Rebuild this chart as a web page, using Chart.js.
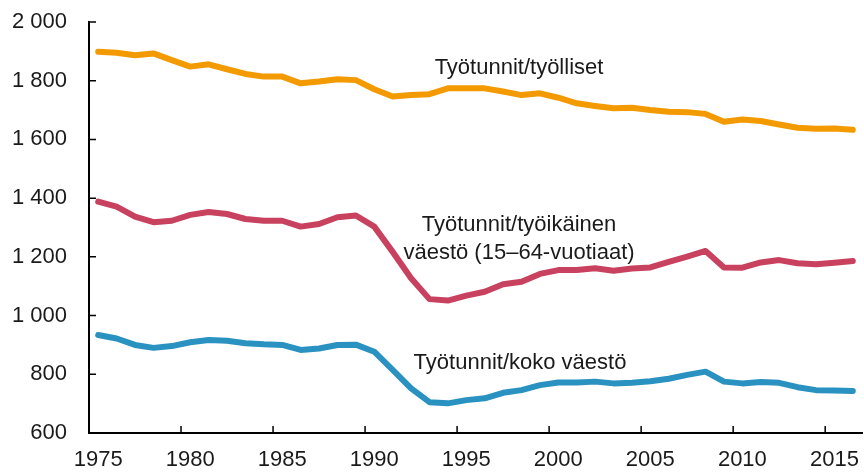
<!DOCTYPE html>
<html>
<head>
<meta charset="utf-8">
<script src="https://cdn.jsdelivr.net/npm/chart.js@4"></script>
<style>
  html, body { margin: 0; padding: 0; background: #fff; }
  #wrap { width: 864px; height: 472px; }
</style>
</head>
<body>
<div id="wrap"><canvas id="hoursChart"></canvas></div>
<script>
// Years 1975-2016
const years = [];
for (let y = 1975; y <= 2016; y++) years.push(y);

// Työtunnit/työlliset
const perEmployed = [1899, 1895, 1887, 1893, 1870, 1848, 1856, 1839, 1823, 1814,
  1814, 1791, 1797, 1805, 1802, 1771, 1746, 1751, 1754, 1774,
  1774, 1774, 1763, 1751, 1757, 1742, 1723, 1714, 1706, 1708,
  1700, 1694, 1693, 1687, 1660, 1668, 1663, 1651, 1640, 1636,
  1637, 1633];

// Työtunnit/työikäinen väestö (15-64)
const perWorkingAge = [1388, 1371, 1337, 1318, 1323, 1343, 1353, 1346, 1329, 1323,
  1323, 1303, 1312, 1335, 1341, 1303, 1217, 1127, 1056, 1051,
  1068, 1081, 1107, 1115, 1142, 1155, 1155, 1161, 1153, 1160,
  1164, 1183, 1201, 1220, 1164, 1163, 1181, 1189, 1178, 1175,
  1180, 1186];

// Työtunnit/koko väestö
const perPopulation = [934, 922, 900, 890, 896, 909, 917, 914, 906, 902,
  900, 883, 888, 900, 901, 877, 815, 752, 705, 701,
  712, 718, 737, 746, 763, 772, 772, 775, 769, 771,
  776, 785, 798, 809, 775, 769, 774, 771, 756, 746,
  745, 743];

const FONT = "'Liberation Sans', Arial, sans-serif";

// series labels written on the plot
const seriesLabels = [
  { lines: ["Työtunnit/työlliset"], x: 519, y: 68 },
  { lines: ["Työtunnit/työikäinen", "väestö (15–64-vuotiaat)"], x: 519, y: 225 },
  { lines: ["Työtunnit/koko väestö"], x: 520, y: 363 }
];

// short tick marks pointing into the plot
const innerTicks = {
  id: "innerTicks",
  afterDraw(chart) {
    const ctx = chart.ctx;
    const xs = chart.scales.x, ys = chart.scales.y;
    const area = chart.chartArea;
    ctx.save();
    ctx.strokeStyle = "#000";
    ctx.lineWidth = 1.5;
    ctx.beginPath();
    years.forEach((yr, i) => {
      if (yr % 5 !== 0) return;
      const px = xs.getPixelForTick(i) - xs.width / years.length / 2;
      ctx.moveTo(px, area.bottom);
      ctx.lineTo(px, area.bottom - 7);
    });
    ys.ticks.forEach((t) => {
      const py = ys.getPixelForValue(t.value);
      ctx.moveTo(area.left, py);
      ctx.lineTo(area.left + 7, py);
    });
    ctx.stroke();

    ctx.fillStyle = "#1a1a1a";
    ctx.font = "22px " + FONT;
    ctx.textAlign = "center";
    ctx.textBaseline = "middle";
    seriesLabels.forEach((l) => {
      l.lines.forEach((s, k) => ctx.fillText(s, l.x, l.y + k * 28));
    });
    ctx.restore();
  }
};

function line(data, color) {
  return {
    data: data,
    borderColor: color,
    backgroundColor: color,
    borderWidth: 6,
    pointRadius: 0,
    tension: 0,
    borderJoinStyle: "round",
    borderCapStyle: "round",
    fill: false
  };
}

new Chart(document.getElementById("hoursChart").getContext("2d"), {
  type: "line",
  data: {
    labels: years,
    datasets: [
      line(perEmployed, "#f39a00"),
      line(perWorkingAge, "#c8415f"),
      line(perPopulation, "#2a92c1")
    ]
  },
  options: {
    responsive: true,
    maintainAspectRatio: false,
    animation: false,
    layout: { padding: { top: 22, right: 2, left: 0, bottom: 0 } },
    plugins: { legend: { display: false }, tooltip: { enabled: false } },
    scales: {
      x: {
        type: "category",
        offset: true,
        grid: { display: true, offset: true, drawOnChartArea: false, drawTicks: false, color: "transparent" },
        border: { display: true, color: "#000", width: 2 },
        afterFit(scale) {
          scale.height = 39;
          scale.paddingLeft = 0;
          scale.paddingRight = 0;
        },
        ticks: {
          autoSkip: false,
          maxRotation: 0,
          padding: 14,
          color: "#1a1a1a",
          font: { family: FONT, size: 22 },
          callback(val, i) { return years[i] % 5 === 0 ? String(years[i]) : ""; }
        }
      },
      y: {
        min: 600,
        max: 2000,
        grid: { display: true, drawOnChartArea: false, drawTicks: false, color: "transparent" },
        border: { display: true, color: "#000", width: 2 },
        afterFit(scale) {
          scale.width = 89;
          scale.paddingTop = 0;
          scale.paddingBottom = 0;
        },
        ticks: {
          stepSize: 200,
          padding: 22,
          color: "#1a1a1a",
          font: { family: FONT, size: 22 },
          callback(v) {
            return String(v).replace(/\B(?=(\d{3})+(?!\d))/g, " ");
          }
        }
      }
    }
  },
  plugins: [innerTicks]
});
</script>
</body>
</html>
